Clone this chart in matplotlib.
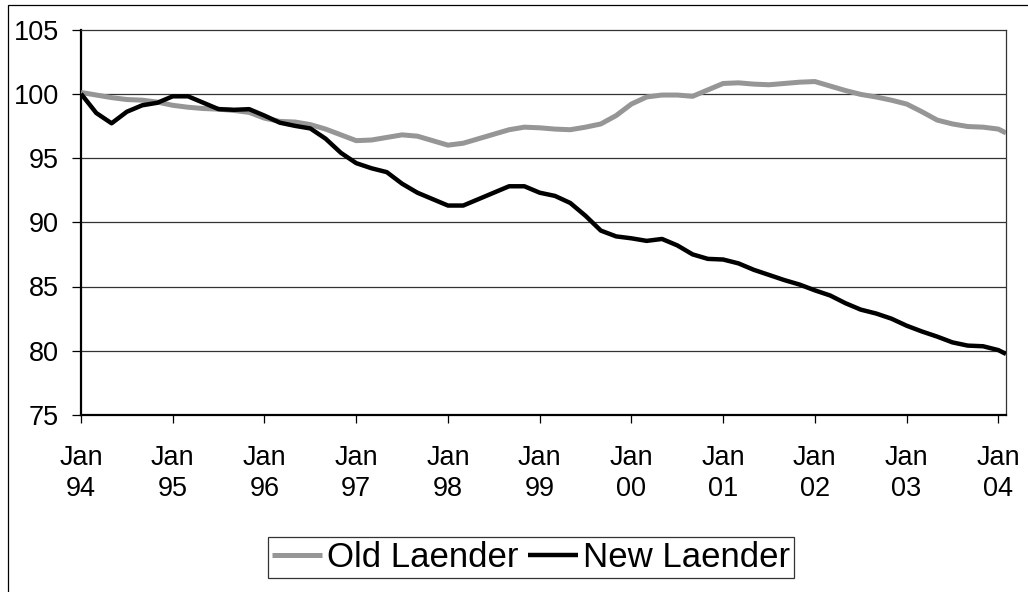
import matplotlib.pyplot as plt
from matplotlib.patches import Rectangle

plt.rcParams['font.family'] = ['Liberation Sans', 'DejaVu Sans']

# months since Jan 1994, read every second month off the chart
months = list(range(0, 121, 2)) + [121]

old_laender = [100.1, 99.9, 99.7, 99.55, 99.5, 99.35, 99.1, 98.95, 98.85, 98.8,
               98.7, 98.55, 98.1, 97.85, 97.8, 97.6, 97.25, 96.8, 96.35, 96.4,
               96.6, 96.8, 96.7, 96.35, 96.0, 96.15, 96.5, 96.85, 97.2, 97.4,
               97.35, 97.25, 97.2, 97.4, 97.65, 98.3, 99.2, 99.75, 99.9, 99.9,
               99.8, 100.3, 100.8, 100.85, 100.75, 100.7, 100.8, 100.9, 100.95, 100.6,
               100.25, 99.95, 99.75, 99.5, 99.2, 98.6, 97.95, 97.65, 97.45, 97.4,
               97.25, 96.95]

new_laender = [100.0, 98.5, 97.7, 98.6, 99.1, 99.3, 99.8, 99.8, 99.3, 98.8,
               98.75, 98.8, 98.3, 97.75, 97.5, 97.3, 96.5, 95.4, 94.6, 94.2,
               93.9, 93.0, 92.3, 91.8, 91.3, 91.3, 91.8, 92.3, 92.8, 92.8,
               92.3, 92.05, 91.5, 90.5, 89.35, 88.9, 88.75, 88.55, 88.7, 88.2,
               87.5, 87.15, 87.1, 86.8, 86.3, 85.9, 85.5, 85.15, 84.7, 84.3,
               83.7, 83.2, 82.9, 82.5, 81.95, 81.5, 81.1, 80.65, 80.4, 80.35,
               80.05, 79.75]

tick_labels = ['Jan\n94', 'Jan\n95', 'Jan\n96', 'Jan\n97', 'Jan\n98', 'Jan\n99',
               'Jan\n00', 'Jan\n01', 'Jan\n02', 'Jan\n03', 'Jan\n04']

fig = plt.figure(figsize=(10.28, 5.92), dpi=100)
ax = fig.add_axes([81/1028, 1-415/592, 925/1028, 385.5/592])

ax.plot(months, old_laender, color='#969696', lw=3.6, label='Old Laender',
        solid_capstyle='butt', zorder=3)
ax.plot(months, new_laender, color='black', lw=3.2, label='New Laender',
        solid_capstyle='butt', zorder=4)

ax.set_xlim(0, 121)
ax.set_ylim(75, 105)
ax.set_yticks(range(75, 106, 5))
ax.set_xticks(range(0, 121, 12))
ax.set_xticklabels(tick_labels, linespacing=1.25)
for y in range(80, 105, 5):
    ax.axhline(y, color='#333333', lw=0.9, zorder=1)

ax.tick_params(axis='both', direction='out', labelsize=19.5, color='black')
ax.tick_params(axis='y', length=6.5, width=0.9, pad=9.5)
ax.tick_params(axis='x', length=5.8, width=0.9, pad=16)

ax.spines['left'].set_linewidth(1.6)
ax.spines['bottom'].set_linewidth(1.6)
ax.spines['top'].set_linewidth(0.9)
ax.spines['right'].set_linewidth(0.9)
ax.spines['top'].set_color('#333333')
ax.spines['right'].set_color('#333333')

leg = fig.legend(loc='center', bbox_to_anchor=(531/1028, 1-557.5/592), ncol=2,
                 fontsize=25, frameon=True, fancybox=False, handlelength=1.45,
                 handletextpad=0.15, columnspacing=0.25, borderpad=0.12,
                 borderaxespad=0)
leg.get_frame().set_edgecolor('black')
leg.get_frame().set_linewidth(0.9)

fig.add_artist(Rectangle((8/1028, -0.1), 2, 0.1 + 1 - 5/592,
                         transform=fig.transFigure, fill=False,
                         edgecolor='black', lw=0.9))

plt.savefig('out.png', dpi=100)
